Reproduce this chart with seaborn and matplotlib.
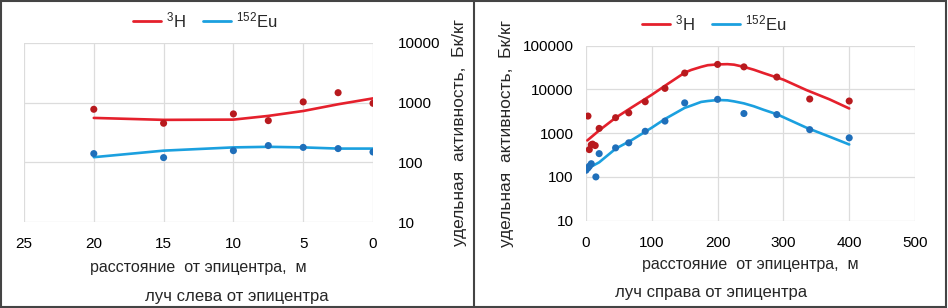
import numpy as np
import pandas as pd
import matplotlib
matplotlib.use("Agg")
import matplotlib.pyplot as plt
from matplotlib.lines import Line2D
from matplotlib.patches import Rectangle
import seaborn as sns

# ---------------- data ----------------
series_names = ["$^{3}$H", "$^{152}$Eu"]

# left ray (distance from epicentre, m)
left_x = [20, 15, 10, 7.5, 5, 2.5, 0]
left_h3_pts = [775, 452, 648, 500, 1030, 1470, 975]
left_eu_pts = [140, 120, 157, 191, 178, 170, 149]
left_h3_line = [555, 515, 520, 600, 725, 940, 1180]
left_eu_line = [122, 157, 178, 182, 178, 170, 170]

# right ray
right_h3_x = [3, 5, 8, 10, 14, 20, 45, 65, 90, 120, 150, 200, 240, 290, 340, 400]
right_h3_pts = [2450, 420, 540, 560, 520, 1280, 2250, 2900, 5200, 10500, 23500, 37000, 32500, 19000, 6000, 5400]
right_eu_x = [0, 3, 5, 8, 15, 20, 45, 65, 90, 120, 150, 200, 240, 290, 340, 400]
right_eu_pts = [142, 160, 175, 200, 100, 340, 460, 600, 1100, 1880, 4900, 5900, 2800, 2650, 1200, 780]

right_h3_line_x = [2, 20, 45, 70, 100, 125, 150, 160, 175, 185, 200, 215, 225, 240, 255, 270, 300, 335, 370, 400]
right_h3_line = [680, 1150, 2240, 3900, 7500, 13500, 24000, 27700, 32500, 35500, 37000, 37500, 36500, 32500, 28000, 23400, 16600, 9600, 5900, 3650]
right_eu_line_x = [0, 20, 45, 70, 100, 120, 150, 160, 175, 185, 200, 215, 225, 240, 255, 270, 290, 335, 370, 400]
right_eu_line = [148, 215, 440, 700, 1330, 2100, 3770, 4250, 5150, 5400, 5700, 5600, 5300, 4770, 4100, 3400, 2700, 1330, 830, 550]

left_xticks = [25, 20, 15, 10, 5, 0]
left_yticks = [10, 100, 1000, 10000]
right_xticks = [0, 100, 200, 300, 400, 500]
right_yticks = [10, 100, 1000, 10000, 100000]

xlabel_text = "расстояние  от эпицентра,  м"
ylabel_text = "удельная  активность,  Бк/кг"
left_caption = "луч слева от эпицентра"
right_caption = "луч справа от эпицентра"

# ---------------- style ----------------
sns.set_theme(style="white")
plt.rcParams["font.family"] = ["Liberation Sans", "DejaVu Sans"]
plt.rcParams["mathtext.fontset"] = "custom"
plt.rcParams["mathtext.rm"] = "Liberation Sans"
plt.rcParams["mathtext.it"] = "Liberation Sans"
plt.rcParams["mathtext.bf"] = "Liberation Sans"

line_pal = {series_names[0]: "#E5202C", series_names[1]: "#1BA0DF"}
pt_pal = {series_names[0]: "#B81A1E", series_names[1]: "#1F6FBA"}
grid_c = "#DCDCDC"
fs = 11

W, H = 948, 308
fig = plt.figure(figsize=(W / 100, H / 100), dpi=100)

def ax_rect(l, r, t, b):
    return [l / W, 1 - b / H, (r - l) / W, (b - t) / H]

axL = fig.add_axes(ax_rect(24, 373, 43, 222))
axR = fig.add_axes(ax_rect(586, 915, 45.5, 220.7))

def long_df(xs, ys_list, xs_list=None):
    rows = []
    for i, name in enumerate(series_names):
        xx = xs if xs_list is None else xs_list[i]
        for x, y in zip(xx, ys_list[i]):
            rows.append({"x": x, "y": y, "s": name})
    return pd.DataFrame(rows)

dfL_line = long_df(left_x, [left_h3_line, left_eu_line])
dfL_pts = long_df(left_x, [left_h3_pts, left_eu_pts])
dfR_line = long_df(None, [right_h3_line, right_eu_line], [right_h3_line_x, right_eu_line_x])
dfR_pts = long_df(None, [right_h3_pts, right_eu_pts], [right_h3_x, right_eu_x])

for ax, dl, dp in [(axL, dfL_line, dfL_pts), (axR, dfR_line, dfR_pts)]:
    sns.lineplot(data=dl, x="x", y="y", hue="s", palette=line_pal, lw=1.9,
                 ax=ax, legend=False, sort=True, zorder=3)
    sns.scatterplot(data=dp, x="x", y="y", hue="s", palette=pt_pal, s=26,
                    edgecolor="none", ax=ax, legend=False, zorder=4)
    ax.set_yscale("log")
    for sp in ax.spines.values():
        sp.set_visible(False)
    ax.grid(True, which="major", color=grid_c, lw=0.9)
    ax.minorticks_off()
    ax.tick_params(length=0, labelsize=fs, colors="black")
    ax.set_axisbelow(True)

# left axes
axL.set_xlim(25, 0)
axL.set_ylim(10, 10000)
axL.set_xticks(left_xticks)
axL.set_xticklabels([str(v) for v in left_xticks])
axL.set_yticks(left_yticks)
axL.set_yticklabels([str(v) for v in left_yticks])
axL.yaxis.tick_right()
axL.tick_params(axis="y", pad=18)
for lab in axL.get_yticklabels():
    lab.set_ha("left")
axL.tick_params(axis="x", pad=11)
axL.set_xlabel(xlabel_text, fontsize=fs + 0.5)
axL.xaxis.set_label_coords(0.5, -0.215)
axL.set_ylabel(ylabel_text, fontsize=fs + 1.5)
axL.yaxis.set_label_position("right")
axL.yaxis.label.set(rotation=90, ha="center", va="center")
axL.yaxis.set_label_coords(1.249, 0.5)

# right axes
axR.set_xlim(0, 500)
axR.set_ylim(10, 100000)
axR.set_xticks(right_xticks)
axR.set_xticklabels([str(v) for v in right_xticks])
axR.set_yticks(right_yticks)
axR.set_yticklabels([str(v) for v in right_yticks])
axR.tick_params(axis="y", pad=9)
axR.tick_params(axis="x", pad=11)
axR.set_xlabel(xlabel_text, fontsize=fs + 0.5)
axR.xaxis.set_label_coords(0.5, -0.21)
axR.set_ylabel(ylabel_text, fontsize=fs + 1.5)
axR.yaxis.label.set(ha="center", va="center")
axR.yaxis.set_label_coords(-0.242, 0.5)

# legends
handles = [Line2D([0], [0], color=line_pal[n], lw=2) for n in series_names]
for ax, pos in [(axL, (205 / W, 1 - 20 / H)), (axR, (714 / W, 1 - 23 / H))]:
    ax.legend(handles, series_names, loc="center", bbox_to_anchor=pos,
              bbox_transform=fig.transFigure, ncol=2, frameon=False,
              fontsize=fs + 1, handlelength=1.7, handletextpad=0.3,
              columnspacing=1.0, borderpad=0.1)

# captions
fig.text(237 / W, 1 - 297 / H, left_caption, ha="center", va="center", fontsize=fs + 1)
fig.text(711 / W, 1 - 293 / H, right_caption, ha="center", va="center", fontsize=fs + 1)

# frame and divider
fig.add_artist(Rectangle((0.001, 0.002), 0.997, 0.995, transform=fig.transFigure,
                         fill=False, edgecolor="#444444", lw=1.5))
fig.add_artist(Line2D([474 / W, 474 / W], [0, 1], transform=fig.transFigure,
                      color="#444444", lw=1.5))

fig.savefig("out.png", dpi=100)
